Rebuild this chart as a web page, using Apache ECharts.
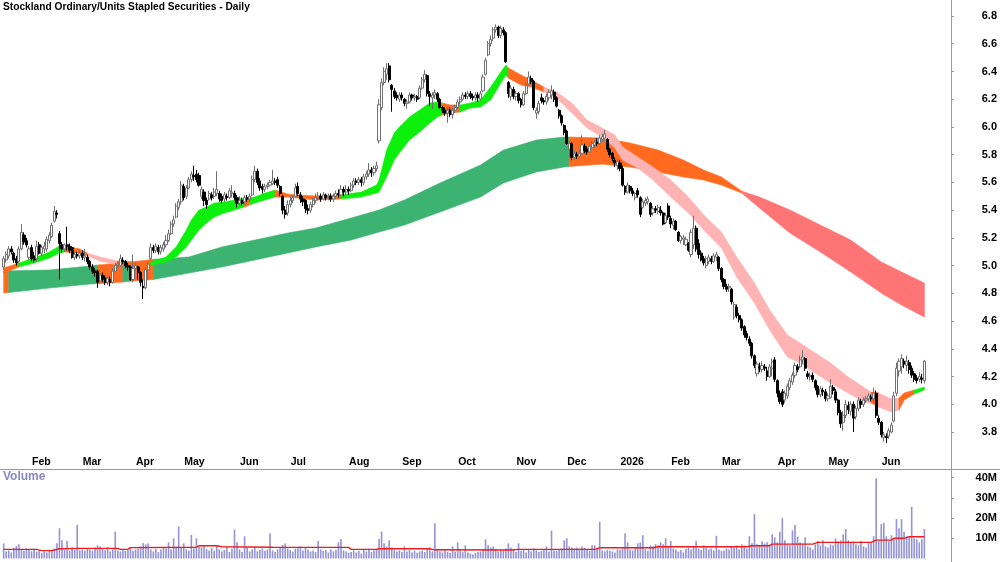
<!DOCTYPE html>
<html>
<head>
<meta charset="utf-8">
<script src="https://cdn.jsdelivr.net/npm/echarts@6/dist/echarts.min.js"></script>
<style>
  html, body { margin: 0; padding: 0; background: #fff; }
  #chart { width: 1000px; height: 562px; }
</style>
</head>
<body>
<div id="chart"></div>
<script>
// trading calendar (ASX) - categories
const firstDay = '2025-01-17';
const slots = 374; // 364 trading days + blank space on the right
const holidays = ['2025-01-27', '2025-04-18', '2025-04-21', '2025-04-25', '2025-06-09',
  '2025-12-25', '2025-12-26', '2026-01-01', '2026-01-26', '2026-04-03', '2026-04-06', '2026-06-08'];
const monthNames = ['Jan', 'Feb', 'Mar', 'Apr', 'May', 'Jun', 'Jul', 'Aug', 'Sep', 'Oct', 'Nov', 'Dec'];
const priceTicks = [3.8, 4.0, 4.2, 4.4, 4.6, 4.8, 5.0, 5.2, 5.4, 5.6, 5.8, 6.0, 6.2, 6.4, 6.6, 6.8];
const volumeTicks = [10e6, 20e6, 30e6, 40e6];

// daily candles [open, close, low, high]
const jan25 = [[4.99,5.05,4.97,5.07],[5.04,5.08,5.02,5.10],[5.07,5.12,5.05,5.14],[5.12,5.10,5.08,5.14],[5.09,5.04,5.02,5.10],
  [5.05,5.02,5.00,5.07],[5.03,5.12,5.02,5.14],[5.12,5.24,5.11,5.30],[5.22,5.17,5.15,5.24],[5.18,5.15,5.13,5.20]];
const feb25 = [[5.06,5.12,5.04,5.14],[5.13,5.05,5.03,5.15],[5.07,5.04,5.02,5.10],[5.05,5.14,5.03,5.18],[5.15,5.09,5.08,5.17],
  [5.09,5.13,5.07,5.15],[5.12,5.14,5.09,5.17],[5.12,5.19,5.10,5.21],[5.18,5.22,5.16,5.24],[5.21,5.29,5.20,5.31],
  [5.32,5.39,5.31,5.43],[5.38,5.37,5.34,5.40],[5.23,5.16,4.90,5.25],[5.15,5.12,5.09,5.17],[5.12,5.15,5.10,5.16],
  [5.15,5.14,5.11,5.28],[5.14,5.11,5.09,5.16],[5.13,5.06,5.05,5.14],[5.06,5.08,5.04,5.10],[5.08,5.07,5.05,5.10]];
const mar25 = [[5.07,5.09,5.05,5.11],[5.09,5.06,5.04,5.11],[5.06,5.07,5.03,5.12],[5.06,5.03,5.01,5.08],[5.03,4.99,4.97,5.04],
  [4.99,4.96,4.94,5.01],[4.96,4.95,4.92,4.98],[4.96,4.88,4.84,4.97],[4.89,4.93,4.87,4.95],[4.93,4.90,4.88,4.95],
  [4.91,4.88,4.86,4.93],[4.88,4.91,4.86,4.93],[4.90,4.88,4.85,4.92],[4.88,4.96,4.87,4.98],[4.96,5.00,4.95,5.02],
  [5.00,5.01,4.98,5.03],[5.00,5.05,4.99,5.08],[5.04,5.03,5.01,5.06],[5.03,5.00,4.98,5.04],[5.00,4.99,4.96,5.02],
  [4.99,4.90,4.89,5.00]];
const apr25 = [[4.90,4.98,4.88,5.08],[4.98,5.00,4.96,5.02],[4.99,4.95,4.90,5.00],[4.95,4.88,4.85,4.96],[4.85,4.84,4.76,4.90],
  [4.84,4.97,4.83,4.99],[4.97,5.01,4.90,5.03],[5.05,5.13,5.04,5.16],[5.13,5.11,5.09,5.15],[5.11,5.14,5.09,5.16],
  [5.13,5.10,5.08,5.15],[5.10,5.13,5.08,5.15],[5.12,5.15,5.10,5.17],[5.15,5.18,5.13,5.22],[5.18,5.23,5.17,5.26],
  [5.23,5.30,5.22,5.32],[5.30,5.33,5.28,5.36],[5.35,5.43,5.34,5.45],[5.42,5.46,5.40,5.48]];
const may25 = [[5.46,5.58,5.44,5.61],[5.57,5.49,5.47,5.59],[5.50,5.56,5.48,5.58],[5.56,5.62,5.55,5.64],[5.62,5.66,5.60,5.68],
  [5.65,5.64,5.61,5.72],[5.66,5.62,5.60,5.69],[5.65,5.58,5.57,5.67],[5.50,5.55,5.48,5.57],[5.53,5.47,5.43,5.55],
  [5.47,5.44,5.41,5.49],[5.48,5.52,5.47,5.54],[5.51,5.49,5.47,5.53],[5.50,5.53,5.48,5.56],[5.52,5.55,5.50,5.68],
  [5.52,5.48,5.46,5.54],[5.50,5.47,5.45,5.52],[5.48,5.51,5.46,5.53],[5.50,5.49,5.47,5.52],[5.49,5.54,5.48,5.56],
  [5.52,5.53,5.49,5.58],[5.52,5.49,5.47,5.54]];
const jun25 = [[5.49,5.45,5.42,5.51],[5.45,5.47,5.43,5.50],[5.47,5.45,5.43,5.49],[5.46,5.49,5.44,5.51],[5.49,5.48,5.46,5.51],
  [5.48,5.50,5.46,5.52],[5.51,5.62,5.50,5.65],[5.62,5.68,5.60,5.72],[5.68,5.60,5.58,5.70],[5.61,5.56,5.54,5.63],
  [5.57,5.55,5.52,5.59],[5.55,5.57,5.53,5.59],[5.57,5.58,5.55,5.60],[5.58,5.60,5.57,5.62],[5.59,5.61,5.58,5.69],
  [5.61,5.60,5.58,5.63],[5.62,5.58,5.56,5.64],[5.57,5.52,5.50,5.58],[5.50,5.40,5.37,5.51],[5.40,5.37,5.34,5.43]];
const jul25 = [[5.38,5.44,5.36,5.47],[5.44,5.47,5.42,5.50],[5.47,5.49,5.45,5.51],[5.50,5.56,5.49,5.59],[5.57,5.52,5.50,5.60],
  [5.51,5.48,5.45,5.53],[5.48,5.46,5.43,5.50],[5.47,5.41,5.38,5.48],[5.41,5.40,5.37,5.44],[5.40,5.44,5.38,5.46],
  [5.44,5.47,5.42,5.49],[5.47,5.49,5.45,5.52],[5.49,5.50,5.47,5.53],[5.50,5.48,5.46,5.52],[5.48,5.51,5.47,5.53],
  [5.51,5.49,5.47,5.52],[5.49,5.50,5.47,5.52],[5.50,5.48,5.46,5.52],[5.48,5.50,5.46,5.52],[5.50,5.52,5.48,5.54],
  [5.52,5.51,5.49,5.55],[5.51,5.55,5.50,5.58],[5.55,5.53,5.50,5.57]];
const aug25 = [[5.53,5.55,5.50,5.58],[5.55,5.54,5.51,5.57],[5.54,5.58,5.53,5.60],[5.58,5.61,5.56,5.63],[5.61,5.60,5.58,5.63],
  [5.60,5.62,5.58,5.64],[5.62,5.60,5.57,5.64],[5.60,5.64,5.58,5.66],[5.64,5.66,5.62,5.68],[5.66,5.69,5.64,5.74],
  [5.69,5.67,5.64,5.71],[5.67,5.70,5.65,5.72],[5.70,5.72,5.68,5.75],[5.90,6.16,5.88,6.20],[6.14,6.32,6.12,6.35],
  [6.32,6.40,6.30,6.43],[6.38,6.42,6.34,6.46],[6.44,6.34,6.32,6.46],[6.30,6.27,6.11,6.31],[6.26,6.22,6.20,6.28],
  [6.23,6.21,6.19,6.25]];
const sep25 = [[6.20,6.23,6.18,6.25],[6.23,6.21,6.19,6.25],[6.20,6.17,6.15,6.21],[6.17,6.18,6.13,6.20],[6.18,6.23,6.17,6.25],
  [6.23,6.21,6.19,6.24],[6.21,6.22,6.19,6.24],[6.22,6.20,6.18,6.23],[6.21,6.28,6.20,6.30],[6.28,6.34,6.27,6.36],
  [6.34,6.38,6.32,6.41],[6.37,6.24,6.22,6.38],[6.24,6.22,6.15,6.26],[6.21,6.23,6.13,6.25],[6.23,6.25,6.20,6.27],
  [6.24,6.20,6.18,6.25],[6.20,6.14,6.13,6.21],[6.14,6.12,6.10,6.15],[6.12,6.10,6.08,6.14],[6.10,6.12,6.03,6.14],
  [6.12,6.09,6.07,6.14],[6.09,6.12,6.06,6.14]];
const oct25 = [[6.12,6.14,6.10,6.16],[6.14,6.18,6.13,6.20],[6.18,6.20,6.16,6.22],[6.20,6.23,6.19,6.25],[6.23,6.22,6.20,6.25],
  [6.22,6.24,6.20,6.26],[6.24,6.22,6.20,6.26],[6.22,6.21,6.19,6.24],[6.21,6.23,6.19,6.25],[6.23,6.21,6.18,6.25],
  [6.20,6.24,6.19,6.26],[6.26,6.36,6.25,6.38],[6.38,6.48,6.37,6.50],[6.52,6.60,6.51,6.62],[6.60,6.63,6.58,6.66],
  [6.64,6.70,6.62,6.72],[6.70,6.72,6.68,6.74],[6.72,6.66,6.64,6.73],[6.66,6.71,6.64,6.73],[6.70,6.68,6.66,6.72],
  [6.68,6.47,6.46,6.69],[6.32,6.24,6.21,6.33],[6.22,6.28,6.19,6.30]];
const nov25 = [[6.27,6.22,6.20,6.29],[6.22,6.24,6.19,6.26],[6.24,6.19,6.17,6.25],[6.20,6.16,6.14,6.21],[6.16,6.24,6.15,6.26],
  [6.24,6.30,6.23,6.32],[6.31,6.36,6.30,6.40],[6.35,6.33,6.31,6.37],[6.33,6.14,6.12,6.34],[6.10,6.12,6.06,6.14],
  [6.11,6.17,6.09,6.19],[6.21,6.19,6.17,6.24],[6.19,6.18,6.16,6.21],[6.18,6.22,6.16,6.24],[6.21,6.25,6.19,6.27],
  [6.23,6.26,6.20,6.30],[6.25,6.20,6.18,6.27],[6.21,6.15,6.14,6.22],[6.12,6.08,6.06,6.13],[6.08,6.03,6.01,6.09]];
const dec25 = [[6.01,5.96,5.94,6.02],[5.97,5.88,5.87,5.98],[5.84,5.88,5.78,5.90],[5.88,5.78,5.76,5.89],[5.78,5.81,5.76,5.83],
  [5.80,5.79,5.77,5.82],[5.79,5.81,5.77,5.84],[5.81,5.87,5.80,5.94],[5.86,5.83,5.81,5.88],[5.84,5.82,5.80,5.86],
  [5.82,5.86,5.81,5.88],[5.85,5.88,5.84,5.90],[5.87,5.89,5.85,5.91],[5.89,5.88,5.86,5.92],[5.88,5.92,5.87,5.94],
  [5.91,5.93,5.89,5.95],[5.92,5.95,5.90,5.98],[5.91,5.84,5.82,5.92],[5.84,5.80,5.78,5.85],[5.81,5.77,5.75,5.82],
  [5.76,5.74,5.71,5.78]];
const jan26 = [[5.72,5.75,5.69,5.77],[5.74,5.70,5.68,5.76],[5.70,5.58,5.57,5.72],[5.57,5.53,5.51,5.58],[5.53,5.58,5.52,5.60],
  [5.57,5.54,5.52,5.58],[5.54,5.52,5.50,5.56],[5.49,5.52,5.47,5.53],[5.54,5.51,5.49,5.56],[5.49,5.37,5.35,5.50],
  [5.42,5.46,5.41,5.48],[5.45,5.47,5.43,5.49],[5.46,5.48,5.44,5.50],[5.45,5.37,5.35,5.46],[5.38,5.41,5.36,5.43],
  [5.41,5.40,5.38,5.43],[5.39,5.42,5.37,5.44],[5.40,5.38,5.36,5.43],[5.38,5.30,5.29,5.39],[5.31,5.36,5.30,5.38]];
const feb26 = [[5.43,5.35,5.33,5.45],[5.34,5.30,5.27,5.36],[5.29,5.32,5.26,5.34],[5.32,5.26,5.25,5.33],[5.24,5.18,5.17,5.25],
  [5.18,5.21,5.16,5.22],[5.19,5.20,5.15,5.22],[5.15,5.19,5.14,5.21],[5.16,5.11,5.10,5.17],[5.08,5.24,5.06,5.26],
  [5.15,5.27,5.12,5.36],[5.27,5.12,5.10,5.29],[5.16,5.08,5.05,5.19],[5.09,5.04,5.03,5.11],[5.05,5.02,5.00,5.07],
  [5.00,5.05,4.98,5.07],[5.03,5.06,5.01,5.08],[5.05,5.03,5.01,5.07],[5.03,5.07,5.02,5.09],[5.06,5.08,5.03,5.10]];
const mar26 = [[5.06,4.98,4.96,5.07],[4.98,4.90,4.88,4.99],[4.90,4.85,4.83,4.91],[4.85,4.83,4.81,4.87],[4.84,4.85,4.81,4.87],
  [4.83,4.74,4.72,4.84],[4.63,4.72,4.61,4.74],[4.70,4.64,4.62,4.72],[4.64,4.61,4.59,4.66],[4.61,4.55,4.53,4.62],
  [4.56,4.50,4.48,4.57],[4.51,4.48,4.46,4.53],[4.47,4.44,4.42,4.49],[4.44,4.35,4.33,4.45],[4.35,4.28,4.26,4.36],
  [4.22,4.29,4.20,4.31],[4.27,4.26,4.23,4.30],[4.25,4.28,4.23,4.31],[4.27,4.26,4.24,4.29],[4.24,4.20,4.17,4.27],
  [4.20,4.27,4.19,4.29],[4.26,4.31,4.20,4.33]];
const apr26 = [[4.32,4.18,4.16,4.34],[4.17,4.08,4.05,4.18],[4.08,4.02,4.00,4.10],[4.09,4.00,3.98,4.11],[4.03,4.08,4.01,4.10],
  [4.06,4.13,4.04,4.15],[4.12,4.17,4.10,4.19],[4.16,4.21,4.14,4.23],[4.21,4.28,4.19,4.30],[4.27,4.25,4.23,4.29],
  [4.27,4.32,4.26,4.35],[4.32,4.34,4.29,4.39],[4.33,4.26,4.24,4.34],[4.22,4.20,4.18,4.24],[4.20,4.21,4.17,4.23],
  [4.21,4.18,4.16,4.23],[4.17,4.12,4.10,4.18],[4.13,4.07,4.05,4.14],[4.07,4.11,4.05,4.13],[4.10,4.09,4.06,4.12]];
const may26 = [[4.09,4.04,4.02,4.11],[4.04,4.06,4.02,4.08],[4.05,4.13,4.04,4.18],[4.12,4.10,4.07,4.14],[4.09,4.03,4.01,4.11],
  [4.03,3.94,3.92,4.04],[3.94,3.86,3.83,3.96],[3.87,3.92,3.81,3.95],[3.92,4.00,3.90,4.03],[3.99,3.96,3.93,4.02],
  [3.95,4.00,3.92,4.02],[4.00,3.90,3.80,4.02],[3.91,3.97,3.89,3.99],[3.97,4.03,3.95,4.05],[4.02,4.00,3.97,4.04],
  [4.00,4.03,3.98,4.05],[4.03,4.04,4.01,4.06],[4.04,4.06,4.02,4.08],[4.05,4.04,4.02,4.07],[4.04,4.08,4.02,4.12],
  [4.08,3.92,3.90,4.10]];
const jun26 = [[3.90,3.87,3.85,3.92],[3.87,3.78,3.76,3.88],[3.76,3.78,3.73,3.80],[3.77,3.76,3.72,3.79],[3.77,3.81,3.75,3.83],
  [3.80,3.85,3.79,3.87],[3.88,4.06,3.87,4.09],[4.08,4.26,4.06,4.30],[4.24,4.31,4.20,4.33],[4.27,4.33,4.22,4.36],
  [4.31,4.29,4.26,4.33],[4.28,4.31,4.24,4.35],[4.30,4.25,4.22,4.32],[4.26,4.21,4.19,4.28],[4.22,4.18,4.16,4.24],
  [4.19,4.17,4.15,4.21],[4.18,4.20,4.16,4.23],[4.19,4.18,4.15,4.22],[4.17,4.31,4.15,4.32]];

// daily volume, millions
const volume = [
  7.5,3.5,4.0,3.0,5.2,6.2,7.0,4.5,3.8,5.0,
  4.2,3.6,4.8,3.3,4.0,2.8,3.5,3.0,3.8,4.5,5.0,7.5,15.0,9.0,4.5,8.7,4.0,5.5,4.2,16.6,
  4.0,4.5,3.8,5.0,4.5,3.8,5.5,6.5,6.0,4.8,4.2,5.5,3.5,4.5,13.3,4.0,3.5,4.8,3.8,4.2,5.0,
  3.8,4.5,5.0,6.0,7.5,7.0,7.5,4.5,3.5,4.8,3.2,4.5,5.5,5.0,8.0,4.5,10.0,6.0,15.8,
  5.5,7.5,4.5,3.8,11.7,5.0,10.0,6.0,5.5,6.5,4.8,4.0,5.2,3.8,6.5,4.5,3.5,4.2,5.8,3.3,4.8,14.3,
  8.0,4.5,3.2,11.0,5.5,3.5,4.5,6.0,3.5,4.2,5.0,3.8,4.5,12.5,4.0,3.2,4.5,5.5,6.8,7.5,
  5.0,4.2,3.5,4.8,5.5,6.0,4.0,5.2,4.5,3.5,4.0,3.2,8.7,4.5,3.8,4.2,3.0,4.5,3.5,4.2,8.0,9.6,4.0,
  3.5,2.8,3.2,4.0,3.0,3.8,2.5,4.2,3.5,4.8,3.2,4.0,4.5,9.6,13.3,7.5,6.0,9.0,5.5,4.2,3.5,
  4.0,3.2,6.0,3.5,4.2,3.0,3.8,2.8,3.5,4.0,3.2,4.8,5.5,3.5,17.4,4.2,3.5,3.0,4.0,3.2,2.8,6.0,
  3.5,8.0,4.0,3.2,6.5,3.0,2.5,2.0,2.8,3.2,3.5,4.5,9.5,6.5,5.5,6.0,4.8,3.5,4.2,3.8,5.0,7.5,5.5,
  4.5,3.2,7.5,3.8,4.5,3.0,4.2,3.5,5.0,4.0,3.2,3.8,4.5,6.0,3.5,13.8,4.0,3.8,4.2,5.0,
  9.0,10.0,6.0,5.5,5.0,5.5,4.8,6.0,5.2,4.5,3.8,6.5,6.5,5.0,18.2,4.0,3.5,4.2,3.8,3.5,3.0,
  4.5,4.2,5.0,12.4,8.0,4.5,4.0,5.5,7.5,8.0,11.5,4.5,3.8,6.5,6.0,7.0,6.5,8.0,7.0,10.0,
  6.0,8.7,5.0,4.5,3.5,4.2,3.0,4.8,5.5,4.5,6.0,8.7,5.0,4.2,6.5,5.5,4.5,5.0,4.0,11.2,
  4.5,3.8,4.0,5.0,4.5,6.0,5.5,6.5,4.5,7.0,6.5,5.0,11.0,7.5,21.9,7.0,6.5,8.5,7.5,8.0,7.0,12.0,
  10.5,8.0,13.3,20.0,9.0,7.0,6.5,14.0,16.6,10.8,8.0,7.5,10.5,6.0,5.5,4.5,7.0,8.7,6.5,9.0,
  6.0,5.5,7.0,6.5,10.0,8.5,9.0,12.0,14.6,9.0,8.0,8.5,7.0,6.5,8.7,6.0,5.5,7.5,8.0,11.0,39.7,
  9.0,17.0,17.7,11.0,8.5,11.5,10.0,19.5,15.0,19.5,13.3,11.0,10.5,25.6,10.0,9.5,8.0,9.5,14.6
];

// volume average (red line), read at its turning points: day index / millions
const volAvgDays = [0,13,15,19,22,30,45,46,49,50,76,77,84,86,106,136,137,147,148,168,170,200,203,233,235,256,258,293,295,302,303,319,321,342,344,350,351,355,357,363];
const volAvgVals = [4.5,4.5,3.9,3.9,4.8,5.0,5.0,4.5,4.6,5.4,5.6,6.3,6.3,5.8,5.6,5.5,4.5,4.6,4.8,4.8,4.3,4.2,4.5,4.5,5.3,5.3,5.8,5.8,6.3,6.3,7.1,7.1,8.0,8.0,9.1,9.1,10.0,10.0,10.8,10.8];

// short-term ribbon edges
const shortDays = [0,6,12,18,22,24,30,33,38,45,52,58,64,68,72,74,77,80,83,87,91,95,97,99,103,107,112,116,123,133,141,147,148,151,154,156,160,164,168,171,173,176,180,184,188,192,196,198,199,204,208,213,218,224,230,236,241,244,250,256,263,270,276,283,289,296,302,309,314,320,326,333,339,342,345,350,353,355,359,363];
const shortTop = [4.982,5.018,5.054,5.098,5.141,5.141,5.120,5.091,5.062,5.033,5.026,5.026,5.062,5.134,5.256,5.329,5.401,5.422,5.451,5.458,5.473,5.487,5.490,5.494,5.523,5.545,5.516,5.509,5.502,5.509,5.530,5.581,5.617,5.833,5.956,5.999,6.071,6.122,6.172,6.179,6.172,6.158,6.158,6.172,6.194,6.288,6.396,6.446,6.425,6.374,6.338,6.288,6.252,6.172,6.050,5.992,5.941,5.855,5.783,5.711,5.617,5.494,5.365,5.242,5.062,4.874,4.679,4.499,4.441,4.369,4.297,4.196,4.124,4.088,4.081,4.038,4.045,4.081,4.103,4.124];
const shortBot = [4.946,4.990,5.018,5.054,5.091,5.098,5.090,5.069,5.033,5.004,4.997,5.004,5.026,5.062,5.134,5.184,5.256,5.307,5.350,5.379,5.401,5.422,5.437,5.451,5.473,5.494,5.494,5.487,5.473,5.480,5.494,5.523,5.530,5.639,5.761,5.812,5.905,5.963,6.028,6.071,6.086,6.100,6.107,6.136,6.143,6.194,6.316,6.374,6.352,6.302,6.288,6.252,6.208,6.100,5.992,5.927,5.848,5.761,5.704,5.617,5.494,5.379,5.256,5.127,4.917,4.730,4.535,4.341,4.297,4.225,4.153,4.081,4.016,4.009,3.980,3.944,3.959,4.030,4.074,4.103];
const shortColours = [[0,'o'],[6,'g'],[24,'o'],[33,'p'],[45,'o'],[58,'g'],[95,'o'],[97,'g'],[109,'o'],[133,'g'],[173,'o'],[179,'g'],[199,'o'],[213,'p'],[342,'o'],[345,'p'],[352,'o'],[358,'g']];

// long-term ribbon edges
const longDays = [0,2,18,34,37,47,50,59,73,86,99,112,123,137,148,158,172,188,197,210,221,223,236,247,258,268,276,283,291,298,310,322,334,346,354,363];
const longTop = [4.961,4.962,4.968,4.997,5.004,5.018,5.025,5.045,5.062,5.134,5.184,5.235,5.271,5.343,5.401,5.473,5.595,5.725,5.833,5.905,5.927,5.927,5.920,5.884,5.833,5.761,5.689,5.639,5.537,5.494,5.401,5.292,5.184,5.026,4.954,4.874];
const longBot = [4.802,4.806,4.838,4.867,4.870,4.881,4.887,4.900,4.946,4.990,5.040,5.091,5.134,5.184,5.242,5.292,5.386,5.494,5.595,5.675,5.711,5.715,5.732,5.711,5.675,5.639,5.617,5.581,5.523,5.415,5.235,5.098,4.954,4.802,4.716,4.629];
const longColours = [[0,'o'],[2,'g'],[37,'o'],[47,'g'],[50,'o'],[59,'g'],[223,'o'],[291,'r']];

const shortPalette = { g: '#0cf00c', o: '#ff6a1f', p: '#ffb3b3' };
const longPalette = { g: '#3cb371', o: '#ff6a1f', r: '#ff7474' };

function tradingDays(start, n) {
  const out = [];
  const d = new Date(start + 'T00:00:00Z');
  while (out.length < n) {
    const wd = d.getUTCDay();
    const s = d.toISOString().slice(0, 10);
    if (wd !== 0 && wd !== 6 && holidays.indexOf(s) < 0) out.push(s);
    d.setUTCDate(d.getUTCDate() + 1);
  }
  return out;
}

const ohlc = [].concat(jan25, feb25, mar25, apr25, may25, jun25, jul25, aug25, sep25, oct25, nov25, dec25,
  jan26, feb26, mar26, apr26, may26, jun26);

const dates = tradingDays(firstDay, slots);
// label only the months that have candles
const monthStart = new Set();
dates.forEach((s, i) => {
  if (i > 0 && i < ohlc.length && s.slice(5, 7) !== dates[i - 1].slice(5, 7)) monthStart.add(i);
});
function monthLabel(s) {
  const m = +s.slice(5, 7);
  return m === 1 ? s.slice(0, 4) : monthNames[m - 1];
}

const volAvg = volume.map(() => null);
volAvgDays.forEach((d, k) => { volAvg[d] = volAvgVals[k] * 1e6; });

function ribbon(days, tops, bots, colours, palette) {
  // group the sampled intervals into runs of one colour
  const runs = [];
  let cur = null;
  for (let k = 0; k < days.length - 1; k++) {
    const mid = (days[k] + days[k + 1]) / 2;
    let c = colours[0][1];
    colours.forEach(s => { if (mid >= s[0]) c = s[1]; });
    if (cur && cur.c === c) cur.end = k + 1;
    else { cur = { start: k, end: k + 1, c: c }; runs.push(cur); }
  }
  return {
    type: 'custom',
    xAxisIndex: 0,
    yAxisIndex: 0,
    silent: true,
    data: runs.map(r => [days[r.start], days[r.end]]),
    renderItem: function (params, api) {
      const r = runs[params.dataIndex];
      const pts = [];
      for (let k = r.start; k <= r.end; k++) pts.push(api.coord([days[k], tops[k]]));
      for (let k = r.end; k >= r.start; k--) pts.push(api.coord([days[k], bots[k]]));
      const col = palette[r.c];
      return { type: 'polygon', shape: { points: pts }, style: { fill: col, stroke: col, lineWidth: 0.6 } };
    }
  };
}

const font = 'Liberation Sans';
const myChart = echarts.init(document.getElementById('chart'));
myChart.setOption({
  animation: false,
  backgroundColor: '#ffffff',
  grid: [
    // 6.8 sits at y=16, 138.67 px per dollar
    { left: 2.4, right: 49, top: 0, height: 454, outerBoundsMode: 'none' },
    { left: 2.4, right: 49, top: 477.7, height: 80.8, outerBoundsMode: 'none' },
    { left: 2.4, right: 49, top: 454, height: 15, outerBoundsMode: 'none' }
  ],
  xAxis: [
    { type: 'category', gridIndex: 0, data: dates, show: false, boundaryGap: true },
    { type: 'category', gridIndex: 1, data: dates, show: false, boundaryGap: true },
    {
      type: 'category', gridIndex: 2, data: dates, position: 'top', boundaryGap: true,
      axisLine: { lineStyle: { color: '#999999', width: 1 } },
      axisTick: {
        inside: true, length: 3, alignWithLabel: true,
        interval: (i) => monthStart.has(i),
        lineStyle: { color: '#999999' }
      },
      axisLabel: {
        inside: true, interval: (i) => monthStart.has(i),
        formatter: (v, i) => monthStart.has(i) ? monthLabel(v) : '',
        align: 'left', padding: [0, 0, 0, 3], margin: 3,
        color: '#000', fontWeight: 'bold', fontSize: 10.5, fontFamily: font
      },
      splitLine: { show: false }
    }
  ],
  yAxis: [
    {
      type: 'value', gridIndex: 0, position: 'right', min: 3.6414, max: 6.9154,
      axisLine: { show: false },
      axisTick: { show: true, length: 3, customValues: priceTicks, lineStyle: { color: '#999999' } },
      axisLabel: {
        customValues: priceTicks,
        formatter: (v) => v.toFixed(1), align: 'right', margin: 46, padding: [4, 0, 0, 0],
        color: '#000', fontWeight: 'bold', fontSize: 11, fontFamily: font
      },
      splitLine: { show: false }
    },
    {
      type: 'value', gridIndex: 1, position: 'right', min: 0, max: 40e6,
      axisLine: { show: false },
      axisTick: { show: true, length: 3, customValues: volumeTicks, lineStyle: { color: '#999999' } },
      axisLabel: {
        customValues: volumeTicks,
        formatter: (v) => (v / 1e6) + 'M', align: 'right', margin: 46, padding: [3, 0, 0, 0],
        color: '#000', fontWeight: 'bold', fontSize: 11, fontFamily: font
      },
      splitLine: { show: false }
    },
    { type: 'value', gridIndex: 2, show: false }
  ],
  graphic: [
    { type: 'line', shape: { x1: 951.5, y1: 0, x2: 951.5, y2: 562 }, style: { stroke: '#999999', lineWidth: 1 }, z: 100 },
    { type: 'line', shape: { x1: 0, y1: 469.5, x2: 1000, y2: 469.5 }, style: { stroke: '#999999', lineWidth: 1 }, z: 100 },
    { type: 'text', left: 3, top: 2, style: { text: 'Stockland Ordinary/Units Stapled Securities - Daily', font: 'bold 10.2px "Liberation Sans"', fill: '#000' }, z: 100 },
    { type: 'text', left: 3, top: 471, style: { text: 'Volume', font: 'bold 12px "Liberation Sans"', fill: '#8787c8' }, z: 100 }
  ],
  series: [
    ribbon(longDays, longTop, longBot, longColours, longPalette),
    ribbon(shortDays, shortTop, shortBot, shortColours, shortPalette),
    {
      type: 'candlestick', xAxisIndex: 0, yAxisIndex: 0, data: ohlc, barWidth: 2.6,
      itemStyle: { color: '#ffffff', color0: '#000000', borderColor: '#707070', borderColor0: '#000000', borderWidth: 1 }
    },
    {
      type: 'bar', xAxisIndex: 1, yAxisIndex: 1, data: volume.map(v => v * 1e6), barWidth: 1.6,
      itemStyle: { color: '#9393d5' }, silent: true
    },
    {
      type: 'line', xAxisIndex: 1, yAxisIndex: 1, data: volAvg, connectNulls: true, symbol: 'none',
      lineStyle: { color: '#ee1c1c', width: 1.4 }, silent: true
    }
  ]
});
</script>
</body>
</html>
